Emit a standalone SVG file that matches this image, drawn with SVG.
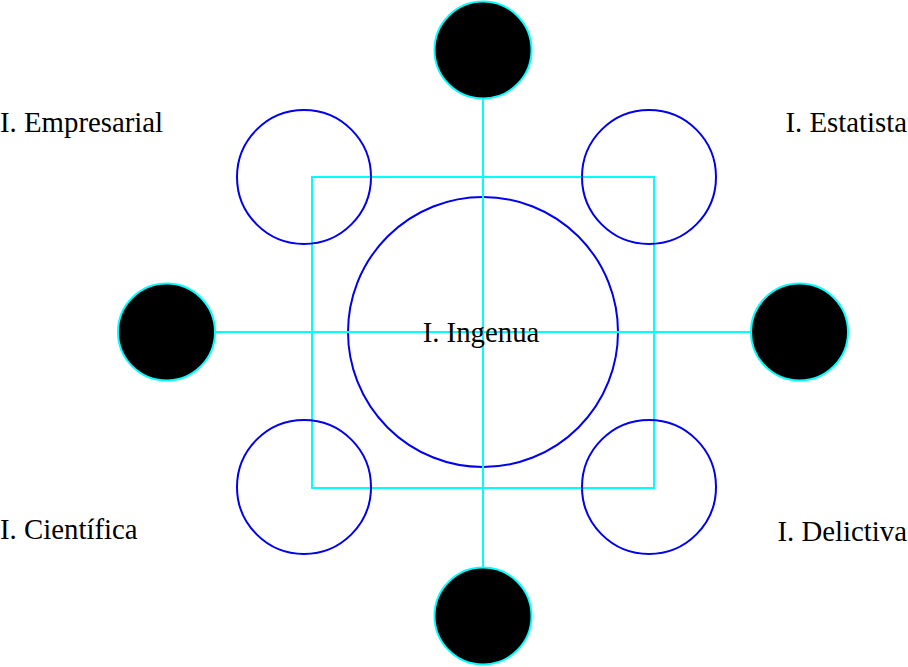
<svg xmlns="http://www.w3.org/2000/svg" width="908" height="667" viewBox="0 0 908 667">
<style>
.ring{fill:none;stroke:#0000ee;stroke-width:2}
.dot{fill:#000;stroke:#00ffff;stroke-width:2}
.conn{stroke:#00ffff;stroke-width:2;fill:none}
.lbl{font-family:"Liberation Serif","Times New Roman",serif;font-size:28.8px;fill:#000}
</style>
<rect width="908" height="667" fill="#fff"/>
<g id="center"><circle class="ring" cx="483" cy="332" r="135"/></g>
<g id="connectors">
<rect class="conn" x="312" y="177" width="342" height="311"/>
<line class="conn" x1="483" y1="99" x2="483" y2="567"/>
<line class="conn" x1="215" y1="332" x2="751" y2="332"/>
</g>
<g id="ring-tl"><circle class="ring" cx="304" cy="177" r="67"/></g>
<g id="ring-tr"><circle class="ring" cx="649" cy="177" r="67"/></g>
<g id="ring-bl"><circle class="ring" cx="304" cy="487" r="67"/></g>
<g id="ring-br"><circle class="ring" cx="649" cy="487" r="67"/></g>
<g id="dot-top"><circle class="dot" cx="483" cy="50" r="48.5"/></g>
<g id="dot-bottom"><circle class="dot" cx="483" cy="616" r="48.5"/></g>
<g id="dot-left"><circle class="dot" cx="166.5" cy="332" r="48.5"/></g>
<g id="dot-right"><circle class="dot" cx="799.5" cy="332" r="48.5"/></g>
<g id="labels">
<text class="lbl" x="481" y="342" text-anchor="middle">I. Ingenua</text>
<text class="lbl" x="0" y="132">I. Empresarial</text>
<text class="lbl" x="907" y="132" text-anchor="end">I. Estatista</text>
<text class="lbl" x="0" y="539">I. Científica</text>
<text class="lbl" x="907" y="541" text-anchor="end">I. Delictiva</text>
</g>
</svg>
